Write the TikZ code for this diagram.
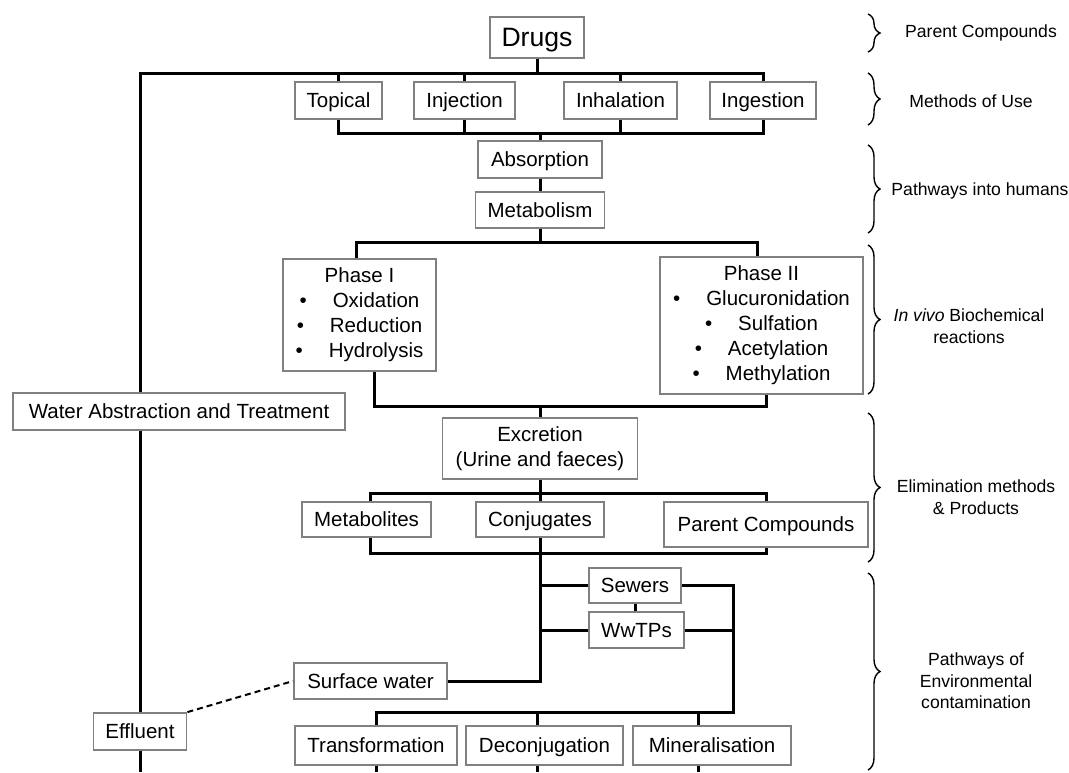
\documentclass[tikz,border=0pt]{standalone}
\usepackage{fontspec}
\setmainfont{Liberation Sans}
\usetikzlibrary{decorations.pathreplacing}
\newcommand{\itm}{\textbullet\hspace{13pt}}

\begin{document}
\begin{tikzpicture}[x=0.5pt, y=-0.5pt,
  box/.style={draw=black!50, line width=0.9pt, fill=white, inner sep=0pt, align=center,
    font=\fontsize{10.25}{12.5}\selectfont},
  word/.style={box, text height=7.4pt, text depth=0.4pt},
  link/.style={line width=1.5pt},
  side/.style={align=center, font=\fontsize{8.8}{10.75}\selectfont},
  bracket/.style={decorate, decoration={brace, amplitude=6pt}, line width=0.7pt}]
\useasboundingbox (0,0) rectangle (1069,772);

% Parent compounds and methods of use
\node[box, minimum width=47pt, minimum height=20.5pt, text height=9.6pt, text depth=0.5pt,
  font=\fontsize{13.3}{16}\selectfont] (drugs) at (537,37.5) {Drugs};
\node[word, minimum width=43.5pt, minimum height=18.5pt] (topical) at (338.5,100.5) {Topical};
\node[word, minimum width=50.5pt, minimum height=18.5pt] (injection) at (464.5,100.5) {Injection};
\node[word, minimum width=56.5pt, minimum height=18.5pt] (inhalation) at (620.5,100.5) {Inhalation};
\node[word, minimum width=53pt, minimum height=18.5pt] (ingestion) at (763,100.5) {Ingestion};

% Pathways into humans
\node[word, minimum width=62pt, minimum height=18.5pt] (absorption) at (540,159.5) {Absorption};
\node[word, minimum width=64.5pt, minimum height=18pt] (metabolism) at (540,210) {Metabolism};

% In vivo reactions
\node[box, minimum width=76.5pt, minimum height=56pt] (phase1) at (359.5,315)
  {Phase I\\ \itm Oxidation\\ \itm Reduction\\ \itm Hydrolysis};
\node[box, minimum width=101.5pt, minimum height=68.5pt] (phase2) at (761.5,325.5)
  {Phase II\\ \itm Glucuronidation\\ \itm Sulfation\\ \itm Acetylation\\ \itm Methylation};
\node[word, minimum width=166pt, minimum height=18.5pt] (water) at (179,411.5) {Water Abstraction and Treatment};

% Elimination and products
\node[box, minimum width=97.5pt, minimum height=30.5pt] (excretion) at (540,448.5) {Excretion\\(Urine and faeces)};
\node[word, minimum width=64.5pt, minimum height=17.5pt] (metabolites) at (366.5,519.5) {Metabolites};
\node[word, minimum width=64pt, minimum height=17.5pt] (conjugates) at (540,519.5) {Conjugates};
\node[word, minimum width=102pt, minimum height=22.5pt] (parent) at (766,524.5) {Parent Compounds};

% Environment
\node[word, minimum width=46pt, minimum height=17.5pt] (sewers) at (635,585.5) {Sewers};
\node[word, minimum width=47.5pt, minimum height=18pt] (wwtps) at (636.5,630) {WwTPs};
\node[word, minimum width=76.5pt, minimum height=18pt] (surface) at (370.5,681) {Surface water};
\node[word, minimum width=46.5pt, minimum height=18.5pt] (effluent) at (140,731.5) {Effluent};
\node[word, minimum width=81pt, minimum height=19.5pt] (transform) at (376,745.5) {Transformation};
\node[word, minimum width=78.5pt, minimum height=19.5pt] (deconj) at (544.5,745.5) {Deconjugation};
\node[word, minimum width=79pt, minimum height=19.5pt] (mineral) at (712,745.5) {Mineralisation};

% Bus levels
\coordinate (topbus) at (140,73);
\coordinate (usebus) at (0,133);
\coordinate (phasebus) at (0,242);
\coordinate (excbus) at (0,406);
\coordinate (prodbus) at (0,493);
\coordinate (prodlow) at (0,553);
\coordinate (envbus) at (733,712);
\coordinate (base) at (0,772);

% Drugs to methods of use
\draw[link] (drugs.south) -- (drugs.south |- topbus);
\draw[link] (ingestion.north) |- (topbus) -- (topbus |- water.north);
\foreach \n in {topical, injection, inhalation}
  \draw[link] (\n.north) -- (\n.north |- topbus);
\draw[link] (topical.south) |- (ingestion.south |- usebus) -- (ingestion.south);
\foreach \n in {injection, inhalation}
  \draw[link] (\n.south) -- (\n.south |- usebus);
\draw[link] (absorption.north) -- (absorption.north |- usebus);
\draw[link] (absorption) -- (metabolism);

% Metabolism to phases and excretion
\draw[link] (metabolism.south) -- (metabolism.south |- phasebus);
\draw[link] ([xshift=-1.75pt]phase1.north) |- ([xshift=-2.25pt]phase2.north |- phasebus) -- ([xshift=-2.25pt]phase2.north);
\draw[link] ([xshift=7.25pt]phase1.south) |- ([xshift=2.25pt]phase2.south |- excbus) -- ([xshift=2.25pt]phase2.south);
\draw[link] (excretion.north) -- (excretion.north |- excbus);

% Excretion to products
\draw[link] (excretion.south) -- (excretion.south |- prodbus);
\draw[link] ([xshift=1.75pt]metabolites.north) |- (parent.north |- prodbus) -- (parent.north);
\draw[link] (conjugates.north) -- (conjugates.north |- prodbus);
\draw[link] ([xshift=1.75pt]metabolites.south) |- (parent.south |- prodlow) -- (parent.south);

% Into the environment
\draw[link] (conjugates.south) |- (surface.east);
\draw[link] (sewers.west -| conjugates.south) -- (sewers.west);
\draw[link] (wwtps.west -| conjugates.south) -- (wwtps.west);
\draw[link] (sewers.south) -- (sewers.south |- wwtps.north);
\draw[link] (sewers.east) -| (envbus) -| (transform.north);
\draw[link] (wwtps.east) -- (wwtps.east -| envbus);
\draw[link] ([xshift=-3.75pt]deconj.north) -- ([xshift=-3.75pt]deconj.north |- envbus);
\draw[link] ([xshift=-7pt]mineral.north) -- ([xshift=-7pt]mineral.north |- envbus);
\draw[densely dashed, line width=1pt] (effluent.north east) -- (surface.west);

% Down to the edge
\draw[link] (water.south -| topbus) -- (effluent.north);
\draw[link] (effluent.south) -- (effluent.south |- base);
\draw[link] (transform.south) -- (transform.south |- base);
\draw[link] ([xshift=-3.75pt]deconj.south) -- ([xshift=-3.75pt]deconj.south |- base);
\draw[link] ([xshift=-7pt]mineral.south) -- ([xshift=-7pt]mineral.south |- base);

% Stage braces
\draw[bracket] (868,14) -- (868,52);
\draw[bracket] (868,73) -- (868,125);
\draw[bracket] (868,145) -- (868,233);
\draw[bracket] (868,245) -- (868,394);
\draw[bracket] (868,413) -- (868,562);
\draw[bracket] (868,573) -- (868,770);

% Stage labels
\node[side] (lblparent) at (981,33) {Parent Compounds};
\node[side] (lbluse) at (971,101) {Methods of Use};
\node[side] (lblhuman) at (980,191) {Pathways into humans};
\node[side] (lblvivo) at (969,326) {\textit{In vivo} Biochemical\\reactions};
\node[side] (lblelim) at (976,497) {Elimination methods\\\& Products};
\node[side] (lblenv) at (976,681) {Pathways of\\Environmental\\contamination};
\end{tikzpicture}
\end{document}
